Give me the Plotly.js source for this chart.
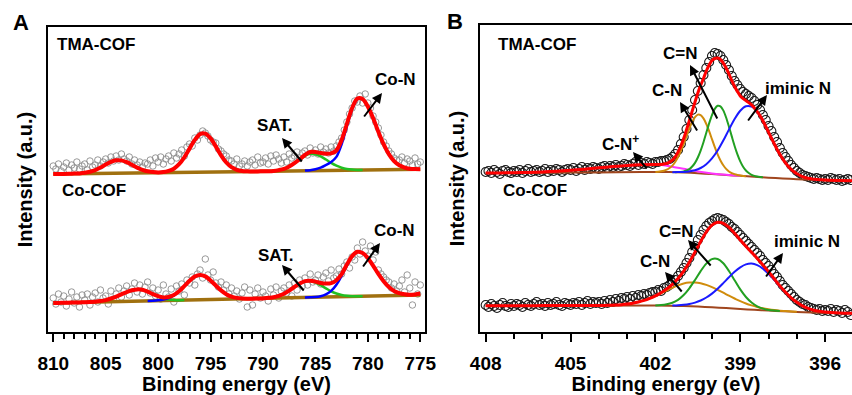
<!DOCTYPE html>
<html><head><meta charset="utf-8">
<script src="https://cdn.plot.ly/plotly-3.0.1.min.js"></script>
<style>html,body{margin:0;padding:0;background:#fff;}#chart{width:852px;height:395px;}</style>
</head><body><div id="chart"></div>
<script>
// ---------- Panel A (Co 2p) : x from 810 to 775 eV ----------
// fitted envelope (red), step 0.5 eV, 810 -> 775
const aTmaRed = [158.0,158.1,158.1,158.2,158.4,158.6,159.2,160.3,161.9,164.5,
 167.4,170.1,171.7,171.6,169.8,167.2,164.4,162.2,160.7,160.0,
 159.6,159.9,161.1,163.3,167.8,174.6,183.4,192.1,197.9,198.4,
 193.7,185.6,176.7,169.5,164.8,162.2,161.1,160.7,160.5,160.6,
 160.7,160.8,161.1,161.9,163.1,165.5,168.8,172.8,177.0,180.0,
 180.0,179.0,178.3,178.6,181.5,192.0,208.0,224.0,233.5,233.0,
 225.5,213.9,200.3,187.8,177.9,170.9,166.7,164.4,163.3,162.9,
 162.8];
const aTmaBaseX = [810, 775];
const aTmaBase = [158.0, 162.7];
const aTmaGreen1 = [158.4,158.6,159.2,160.3,161.9,164.5,167.4,170.1,171.7,171.6,169.8,167.2,164.4,162.2,160.7,160.0,159.5,159.4]; // 808 -> 799.5
const aTmaBlue1 = [159.3,159.4,159.9,161.1,163.3,167.8,174.6,183.4,192.1,197.9,198.4,193.7,185.6,176.7,169.5,164.8,162.2,161.1,160.7]; // 800.5 -> 791.5
const aTmaGreen2 = [160.8,161.1,161.9,163.1,165.5,168.8,172.6,176.2,178.3,177.7,175.6,172.5,169.1,166.3,164.3,163.0,162.4,162.1,162.0]; // 789.5 -> 780.5
const aTmaBlue2 = [161.4,161.8,162.8,164.4,167.0,170.0,175.1,187.7,205.7,222.8,232.9,232.7,225.5,213.9,200.3]; // 786 -> 779

const aCoRed = [29.0,29.1,29.2,29.3,29.5,29.6,29.8,30.0,30.3,30.9,
 31.9,33.5,35.4,37.7,39.9,41.7,42.6,42.2,40.4,37.9,
 35.8,34.6,35.0,37.0,40.7,45.9,51.2,55.4,57.0,55.6,
 51.6,46.5,41.6,37.8,35.4,34.1,33.5,33.3,33.3,33.5,
 33.6,34.2,34.8,36.2,38.3,41.4,45.0,48.4,50.9,51.3,
 50.4,49.0,48.4,48.8,51.8,57.9,67.4,75.9,80.2,79.0,
 74.0,66.4,58.1,50.7,44.9,41.1,38.9,37.7,37.2,37.6,
 38.5];
const aCoBase = [29.0, 37.0];
const aCoGreen1 = [29.8,30.0,30.3,30.9,31.9,33.5,35.4,37.7,39.9,41.7,42.6,42.2,40.4,37.8,35.4,33.5,32.5,32.0,31.8,31.9]; // 807 -> 797.5
const aCoBlue1 = [31.1,31.3,31.7,32.5,34.0,36.6,40.6,45.9,51.2,55.4,57.0,55.6,51.6,46.5,41.6,37.8,35.4,34.1,33.5,33.3]; // 801 -> 791.5
const aCoGreen2 = [34.2,34.8,36.2,38.3,41.4,45.0,48.4,50.7,51.0,49.5,46.8,43.7,40.7,38.5,37.0,36.2,35.8,35.7,35.8]; // 789.5 -> 780.5
const aCoBlue2 = [34.5,34.7,35.0,35.8,37.6,41.1,47.3,56.2,66.6,75.6,80.1,79.0,74.0,66.4,58.1]; // 786 -> 779

// measured points, step 0.25 eV, 810 -> 775
const aTmaPts = [166,163,168,161, 165,169,162,167, 164,170,163,166, 168,162,171,165,
 167,172,166,170, 173,169,175,171, 176,172,178,173, 171,175,168,172,
 167,170,165,169, 168,172,166,174, 170,175,168,173, 176,171,179,174,
 178,182,176,185, 188,186,194,192, 197,201,199,196, 192,190,189,183,
 181,178,176,172, 171,168,173,166, 168,171,166,170, 172,167,175,169,
 170,174,168,176, 171,177,173,169, 175,170,178,174, 176,180,174,179,
 181,177,184,179, 182,178,185,180, 183,179,185,181, 186,190,194,202,
 210,218,224,231, 230,236,229,238, 229,224,216,210, 204,197,190,186,
 181,178,174,172, 172,175,169,173, 171,167,174,168, 170];
const aCoPts = [34,28,38,30, 36,26,33,40, 29,35,25,37, 32,38,27,35,
 39,30,42,34, 36,28,41,33, 38,44,35,41, 46,37,43,49,
 40,47,38,45, 50,39,44,36, 42,33,47,38, 35,43,30,46,
 41,48,37,52, 49,55,47,58, 62,54,73,57, 52,60,49,45,
 50,42,47,38, 44,36,41,33, 39,45,25,42, 27,38,44,34,
 40,36,31,43, 37,45,34,41, 44,39,47,36, 49,42,52,46,
 54,47,58,50, 52,57,48,55, 59,51,62,54, 56,63,58,66,
 70,64,75,72, 84,78,90,81, 76,86,72,80, 62,58,55,52,
 50,44,48,41, 46,52,40,57, 44,27,50,38, 47];

// ---------- Panel B (N 1s) : x from 408 to 395 eV ----------
const bTmaRedCoarse = [159.0,159.1,159.2,159.6,160.1,160.8,161.7,162.8,164.2,165.5,166.6,167.3]; // 408 -> 402.5 step 0.5
const bTmaRedFine = [167.5,167.5,167.6,167.9,168.6,169.9,171.8,175.1,179.9,186.0,
 193.4,202.2,211.3,220.9,230.0,238.9,246.6,253.5,261.0,267.0,
 271.5,273.5,274.0,272.5,269.0,264.0,258.0,251.5,245.5,240.5,
 236.0,233.4,231.4,229.4,227.1,224.1,220.5,216.2,211.2,205.7,
 199.9,194.0,188.3,182.8,177.7,173.1,169.1,165.5,162.6,160.2,
 158.2,156.7,155.4,154.5,153.8,153.3,152.8,152.6,152.3,152.2,
 152.0]; // 402.0 -> 396.0 step 0.1
const bTmaRedTail = [151.6, 151.3]; // 395.5, 395.0
const bTmaBrownX = [408,406,404,402.5,402,401.5,401,400.5,400,399.5,399,398.5,398,397.5,397,396.5,396,395];
const bTmaBrown = [159.0,159.3,159.6,159.9,160.0,159.9,159.5,158.8,157.9,157.0,156.2,155.2,154.3,153.5,152.8,152.3,151.8,151.3];
const bTmaMagX = [406,405,404,403.5,403,402.5,402,401.5,401,400.5,400,399.5,399];
const bTmaMag = [160.1,161.7,164.2,165.5,166.6,167.3,167.4,165.8,163.2,160.6,158.6,157.2,156.2];
const bTmaOrange = [160.1,160.3,160.7,161.3,162.3,164.0,166.4,170.0,174.9,181.0,188.1,195.9,203.4,210.1,214.9,217.4,216.9,213.6,208.0,200.8,192.8,184.8,177.6,171.5,166.7,163.1,160.5,158.8,157.7,157.0,156.5,156.1,155.8]; // 402.0 -> 398.8 step 0.1
const bTmaGreen = [159.7,159.9,160.1,160.5,161.5,162.9,165.5,169.1,174.5,181.4,189.8,199.2,208.6,216.9,223.1,226.2,225.7,221.6,214.5,205.4,195.6,186.0,177.6,170.6,165.3,161.5,159.0,157.2,156.1,155.4,155.0,154.8]; // 401.3 -> 398.2 step 0.1
const bTmaBlue = [159.8,159.9,160.1,160.6,161.7,164.0,167.8,173.6,181.5,191.5,202.4,213.0,221.3,225.7,225.3,220.1,211.2,199.9,188.3,177.7,169.1,162.6,158.2,155.4,153.8,152.8,152.3,152.0]; // 401.4 -> 396.0 step 0.2

const bCoRedCoarse = [26.3,26.3,26.3,26.3,26.4,26.4,26.4,26.4]; // 408 -> 404.5 step 0.5
const bCoRedFine = [26.5,26.6,26.7,26.9,27.3,27.9,28.8,30.0,31.6,33.7,
 36.2,39.3,43.1,47.7,53.5,60.9,69.7,79.9,90.5,100.0,
 106.8,109.7,108.7,104.6,98.7,92.1,85.7,79.7,73.6,67.1,
 60.2,53.2,46.1,39.8,34.2,29.7,26.1,23.6,21.8,20.7,
 19.9]; // 404.0 -> 396.0 step 0.2
const bCoRedTail = [19.0, 18.7];
const bCoBrownX = [408,402,401.5,401,400.5,400,399.5,399,398.5,398,397.5,397,396.5,396,395];
const bCoBrown = [26.3,26.4,26.2,25.9,25.4,24.7,23.9,23.0,22.2,21.4,20.7,20.1,19.6,19.2,18.7];
const bCoOrange = [26.7,26.9,27.3,27.9,28.8,30.0,31.6,33.6,36.0,38.7,41.5,44.2,46.6,48.5,49.4,49.5,48.7,47.1,44.9,42.2,39.3,36.3,33.5,30.8,28.5,26.6,25.0,23.7,22.7,21.9,21.3,20.9,20.5,20.2]; // 403.6 -> 397.0 step 0.2
const bCoGreen = [26.6,26.9,27.7,29.3,32.2,37.0,43.7,52.0,60.9,68.4,72.9,73.0,68.7,61.0,51.8,42.6,35.0,29.5,25.7,23.4,22.1,21.4,20.9]; // 402.0 -> 397.6 step 0.2
const bCoBlue = [26.4,26.7,27.2,28.0,29.4,31.5,34.5,38.4,43.3,48.9,54.7,60.2,64.7,67.6,68.4,66.9,63.4,58.2,52.1,45.6,39.5,34.0,29.6,26.1,23.6,21.8,20.7,19.9]; // 401.4 -> 396.0 step 0.2

// measured points, step 0.1 eV, 408.0 -> 395.1
const bTmaPts = [160,161,159,162,160,158,161,162,160,159,
 161,160,162,159,161,163,160,161,162,160,
 161,163,160,162,161,163,162,160,162,163,
 162,164,161,163,165,162,164,163,165,164,
 163,165,166,164,166,165,167,165,166,168,
 167,166,168,170,167,169,168,170,169,168,
 170,170,171,171,172,173,175,178,182,188,
 195,203,212,222,232,241,249,257,264,270,
 276,279,278,276,272,267,262,256,251,247,
 243,240,238,236,234,231,227,222,217,212,
 206,201,195,190,184,179,175,171,167,164,
 161,159,157,156,155,154,153,154,153,152,
 153,152,154,153,152,153,151,152,153,152];
const bCoPts = [27,25,28,26,24,27,29,26,25,28,
 26,28,27,25,29,27,26,28,30,27,
 28,26,29,27,28,30,27,26,29,28,
 27,29,28,30,27,29,31,28,30,29,
 30,28,31,29,32,30,33,31,34,33,
 35,33,36,34,37,36,38,37,39,40,
 40,42,41,44,45,47,49,52,56,60,
 64,69,74,80,86,92,97,102,106,109,
 111,113,114,113,112,110,108,105,103,100,
 97,94,91,88,85,82,79,76,72,69,
 66,62,58,55,51,47,44,41,38,35,
 32,30,28,27,25,24,23,22,23,21,
 22,21,23,20,22,21,19,22,20,17];

// ---------- helpers ----------
function grid(a, b, step){ const n = Math.round(Math.abs(a-b)/step); const o=[]; for(let i=0;i<=n;i++) o.push(+(a - i*step).toFixed(3)); return o; }
const FONT = 'Liberation Sans, Arial, Helvetica, sans-serif';
const traces = [];
function pts(x, y, xa, ya, color, size, lw){ traces.push({x, y, xaxis:xa, yaxis:ya, type:'scatter', mode:'markers', marker:{symbol:'circle-open', size, color, line:{width:lw, color}}, hoverinfo:'skip'}); }
function ln(x, y, xa, ya, color, width){ traces.push({x, y, xaxis:xa, yaxis:ya, type:'scatter', mode:'lines', line:{color, width, shape:'spline', smoothing:0.8}, hoverinfo:'skip'}); }

// Panel A colours
const A_RED='#ff0000', A_BROWN='#a0700f', A_GREEN='#22c022', A_BLUE='#0000ff', A_PT='#8c8c8c';
pts(grid(810,775,0.25), aTmaPts, 'x','y', A_PT, 6.5, 0.9);
pts(grid(810,775,0.25), aCoPts, 'x','y', A_PT, 6.5, 0.9);
ln(aTmaBaseX, aTmaBase, 'x','y', A_BROWN, 3.5);
ln(aTmaBaseX, aCoBase, 'x','y', A_BROWN, 3.5);
ln(grid(808,799.5,0.5), aTmaGreen1, 'x','y', A_GREEN, 2.5);
ln(grid(800.5,791.5,0.5), aTmaBlue1, 'x','y', A_BLUE, 2.5);
ln(grid(789.5,780.5,0.5), aTmaGreen2, 'x','y', A_GREEN, 2.5);
ln(grid(786,779,0.5), aTmaBlue2, 'x','y', A_BLUE, 2.5);
ln(grid(807,797.5,0.5), aCoGreen1, 'x','y', A_GREEN, 2.5);
ln(grid(801,791.5,0.5), aCoBlue1, 'x','y', A_BLUE, 2.5);
ln(grid(789.5,780.5,0.5), aCoGreen2, 'x','y', A_GREEN, 2.5);
ln(grid(786,779,0.5), aCoBlue2, 'x','y', A_BLUE, 2.5);
ln(grid(810,775,0.5), aTmaRed, 'x','y', A_RED, 4);
ln(grid(810,775,0.5), aCoRed, 'x','y', A_RED, 4);

// Panel B colours
const B_RED='#ff0000', B_BROWN='#a0461e', B_MAG='#ff33ff', B_OR='#d08c0c', B_GREEN='#22a022', B_BLUE='#1a1aff', B_PT='#1a1a1a';
pts(grid(408,395.1,0.1), bTmaPts, 'x2','y2', B_PT, 9, 1.1);
pts(grid(408,395.1,0.1), bCoPts, 'x2','y2', B_PT, 9, 1.1);
ln(bTmaBrownX, bTmaBrown, 'x2','y2', B_BROWN, 2);
ln(bTmaMagX, bTmaMag, 'x2','y2', B_MAG, 2);
ln(grid(402,398.8,0.1), bTmaOrange, 'x2','y2', B_OR, 2);
ln(grid(401.3,398.2,0.1), bTmaGreen, 'x2','y2', B_GREEN, 2);
ln(grid(401.4,396,0.2), bTmaBlue, 'x2','y2', B_BLUE, 2);
ln(bCoBrownX, bCoBrown, 'x2','y2', B_BROWN, 2);
ln(grid(403.6,397,0.2), bCoOrange, 'x2','y2', B_OR, 2);
ln(grid(402,397.6,0.2), bCoGreen, 'x2','y2', B_GREEN, 2);
ln(grid(401.4,396,0.2), bCoBlue, 'x2','y2', B_BLUE, 2);
ln(grid(408,402.5,0.5).concat(grid(402,396,0.1), [395.5,395]), bTmaRedCoarse.concat(bTmaRedFine, bTmaRedTail), 'x2','y2', B_RED, 3);
ln(grid(408,404.5,0.5).concat(grid(404,396,0.2), [395.5,395]), bCoRedCoarse.concat(bCoRedFine, bCoRedTail), 'x2','y2', B_RED, 3);

// ---------- layout ----------
const W=852, H=395;
function lbl(text, px, py, size){ return {text, x:px/W, y:1-py/H, xref:'paper', yref:'paper', showarrow:false, xanchor:'center', yanchor:'middle', font:{family:FONT, size:size||17, color:'black', weight:'bold'}}; }
function arr(tx, ty, hx, hy){ return {x:hx/W, y:1-hy/H, xref:'paper', yref:'paper', ax:tx-hx, ay:ty-hy, text:'', showarrow:true, arrowhead:2, arrowsize:1, arrowwidth:2, arrowcolor:'black', standoff:0, startstandoff:0}; }
const tf = {family:FONT, size:19, color:'black', weight:'bold'};
const ttf = {family:FONT, size:20, color:'black', weight:'bold'};
const axCommon = {showline:true, linewidth:2, linecolor:'black', ticks:'outside', ticklen:8, tickwidth:2, tickcolor:'black',
  minor:{dtick:1, ticks:'outside', ticklen:5, tickwidth:2, tickcolor:'black'}, tickfont:tf, ticklabelstandoff:5,
  showgrid:false, zeroline:false};
const yCommon = {showline:true, linewidth:2, linecolor:'black', ticks:'', showticklabels:false, showgrid:false, zeroline:false};

const layout = {
  width:W, height:H, margin:{l:0,r:0,t:0,b:0}, paper_bgcolor:'white', plot_bgcolor:'rgba(0,0,0,0)', showlegend:false,
  xaxis: Object.assign({}, axCommon, {domain:[48/W, 425/W], range:[810.5, 774.55], anchor:'y', mirror:true, tick0:775, dtick:5,
    title:{text:'Binding energy (eV)', font:ttf, standoff:9}}),
  yaxis: Object.assign({}, yCommon, {domain:[63/H, 368/H], range:[0,305], anchor:'x', mirror:true,
    title:{text:'Intensity (a.u.)', font:ttf, standoff:8}}),
  xaxis2: Object.assign({}, axCommon, {domain:[480/W, 1], range:[408.2, 395.05], anchor:'y2', mirror:true, tick0:396, dtick:3,
    title:{text:'Binding energy (eV)', font:ttf, standoff:9}}),
  yaxis2: Object.assign({}, yCommon, {domain:[63/H, 370/H], range:[0,307], anchor:'x2', mirror:false,
    title:{text:'Intensity (a.u.)', font:ttf, standoff:8}}),
  annotations: [
    lbl('A', 21, 23, 22), lbl('B', 455, 22, 22),
    lbl('TMA-COF', 96, 44), lbl('Co-COF', 94, 190),
    lbl('SAT.', 275, 126), lbl('Co-N', 395, 80),
    lbl('SAT.', 276, 255), lbl('Co-N', 394, 230),
    arr(303,163,282,138), arr(363,118,382,93), arr(305,292,282,265), arr(362,268,380,243),
    lbl('TMA-COF', 537, 44), lbl('Co-COF', 535, 190),
    lbl('C=N', 680, 53), lbl('C-N', 667, 90), lbl('iminic N', 798, 89), lbl('C-N<sup>+</sup>', 620, 143),
    lbl('C=N', 676, 231), lbl('C-N', 655, 261), lbl('iminic N', 807, 241),
    arr(718,120,690,65), arr(698,132,680,102), arr(747,122,767,95), arr(648,170,633,152),
    arr(712,267,688,240), arr(683,293,665,272), arr(765,278,783,253)
  ]
};
Plotly.newPlot('chart', traces, layout, {staticPlot:true, displayModeBar:false});
</script></body></html>
